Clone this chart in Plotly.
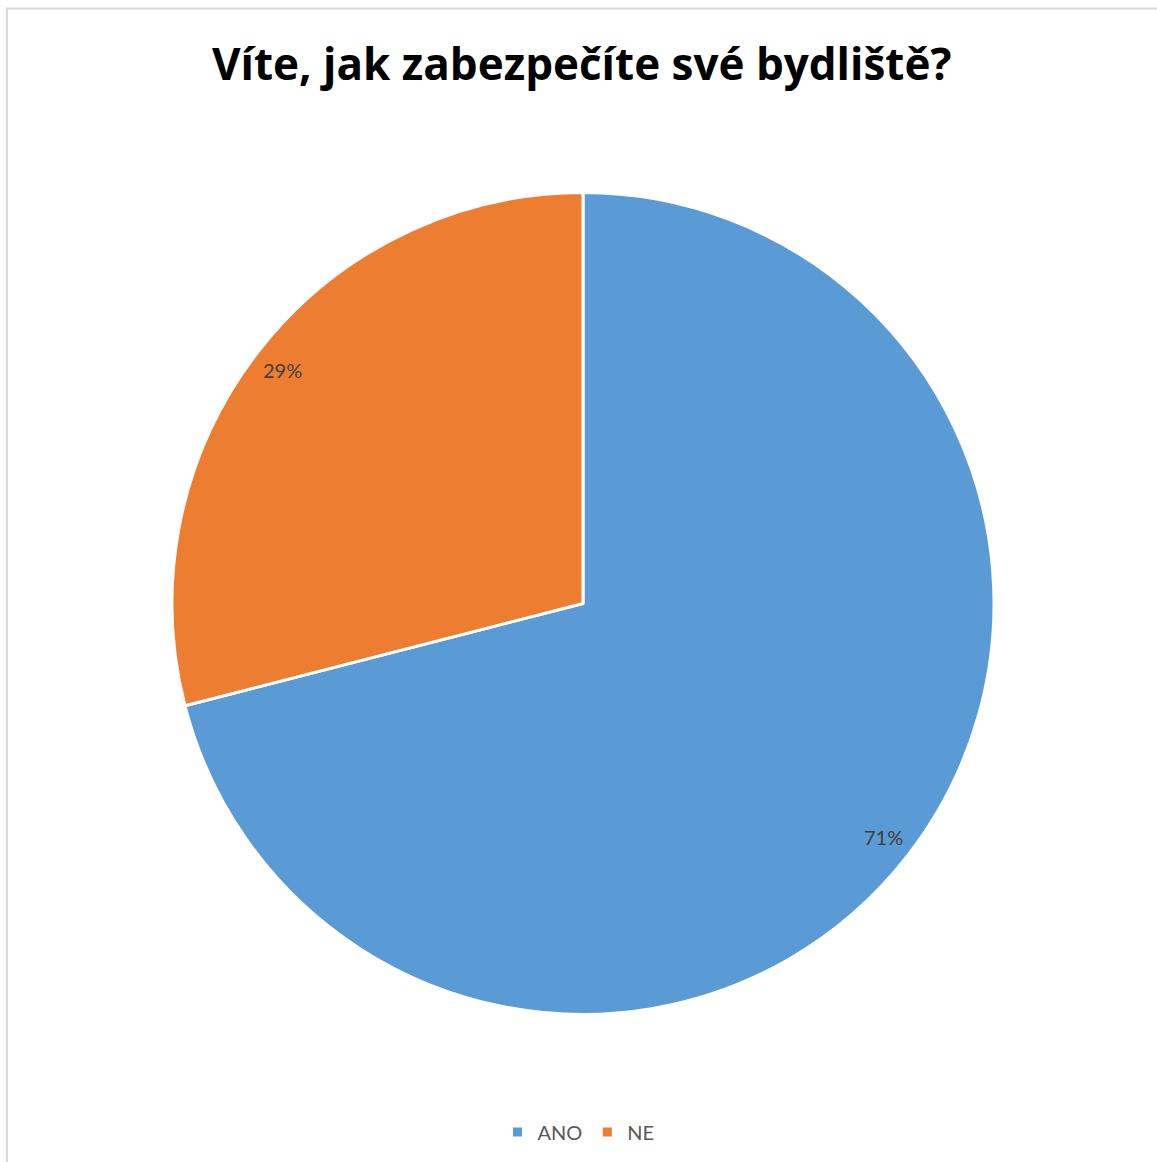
import math
import plotly.graph_objects as go

labels = ["ANO", "NE"]
values = [71, 29]
colors = ["#5B9BD5", "#ED7D31"]
title_text = "Víte, jak zabezpečíte své bydliště?"

W, H = 1157, 1162
cx_px, cy_px, r_px = 583, 603.5, 411

fig = go.Figure(go.Pie(
    labels=labels,
    values=values,
    sort=False,
    direction="clockwise",
    rotation=0,
    marker=dict(colors=colors, line=dict(color="white", width=3)),
    textinfo="none",
    domain=dict(x=[(cx_px - r_px) / W, (cx_px + r_px) / W],
                y=[(H - cy_px - r_px) / H, (H - cy_px + r_px) / H]),
))

# data labels placed along each slice bisector near the outer edge
total = sum(values)
cum = 0
annotations = []
for lab, v in zip(labels, values):
    mid = (cum + v / 2) / total * 2 * math.pi
    cum += v
    rr = 0.925 * r_px
    x = (cx_px + rr * math.sin(mid)) / W
    y = (H - cy_px + rr * math.cos(mid)) / H
    annotations.append(dict(
        x=x, y=y, xref="paper", yref="paper", showarrow=False,
        text=f"{round(v / total * 100)}%",
        font=dict(family="Lato, Open Sans, sans-serif", size=20, color="#404040"),
        xanchor="center", yanchor="middle",
    ))

annotations.append(dict(
    x=581.5 / W, y=(H - 63) / H, xref="paper", yref="paper", showarrow=False,
    text=f"<b>{title_text}</b>",
    font=dict(family="Open Sans, sans-serif", size=44, color="#000000"),
    xanchor="center", yanchor="middle",
))

fig.update_layout(
    width=W, height=H,
    margin=dict(l=0, r=0, t=0, b=0),
    paper_bgcolor="white",
    plot_bgcolor="white",
    annotations=annotations,
    showlegend=True,
    legend=dict(
        orientation="h", x=0.5, xanchor="center",
        y=(H - 1132) / H, yanchor="middle",
        font=dict(family="Lato, Open Sans, sans-serif", size=20, color="#595959"),
        itemwidth=30,
    ),
    shapes=[dict(
        type="rect", xref="paper", yref="paper",
        x0=7 / W, x1=1.05, y0=-0.05, y1=(H - 8.5) / H,
        line=dict(color="#D9D9D9", width=2),
    )],
)

fig.write_html("out.html")
